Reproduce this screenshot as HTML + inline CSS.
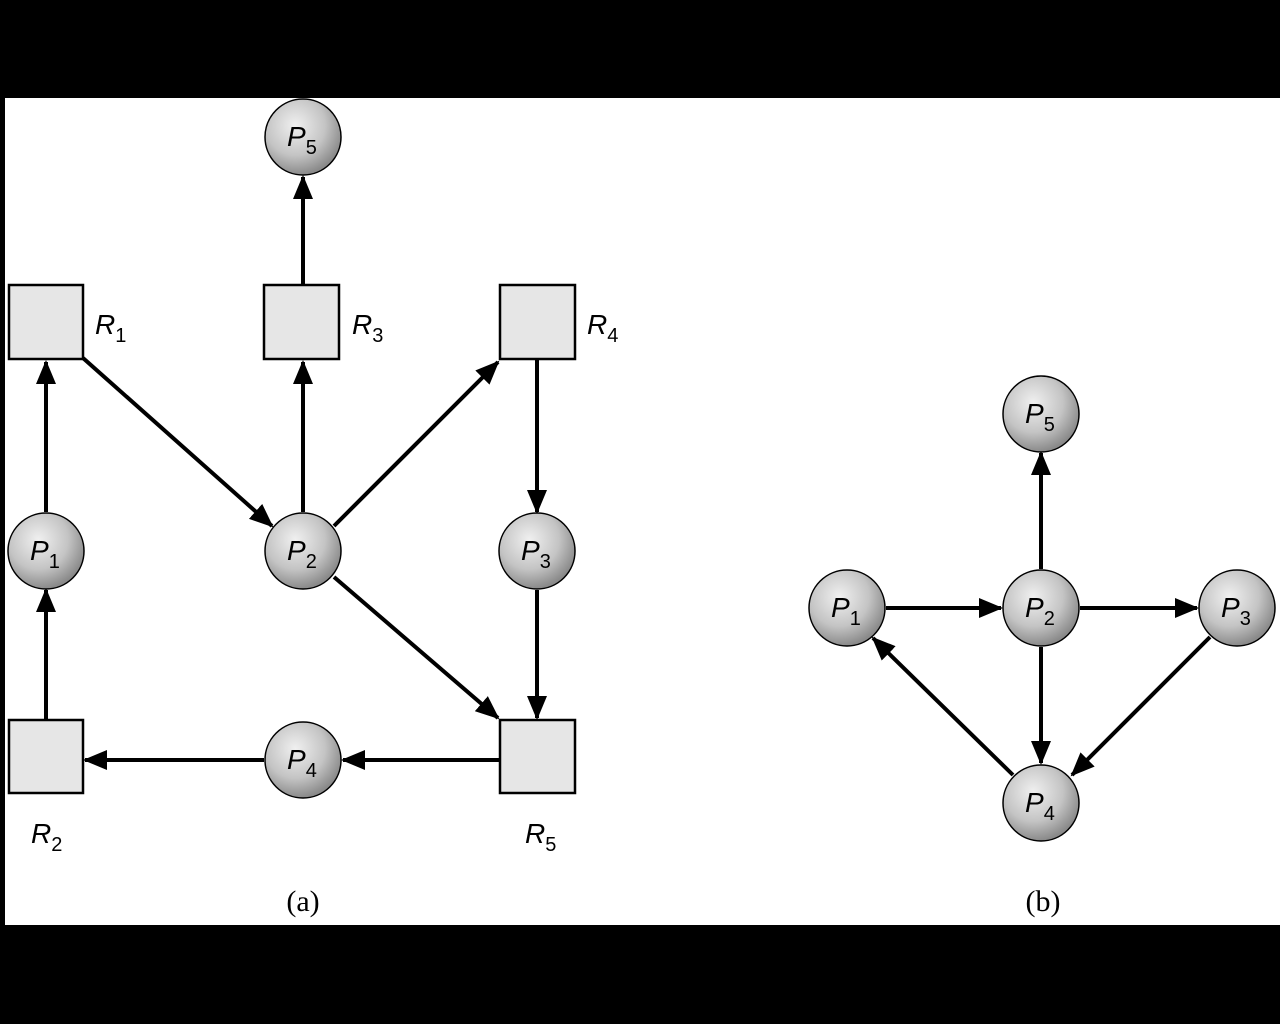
<!DOCTYPE html>
<html><head><style>body{margin:0;background:#000}svg{display:block}</style></head><body>
<svg width="1280" height="1024" xmlns="http://www.w3.org/2000/svg">
<defs>
<radialGradient id="g" cx="0.4" cy="0.35" r="0.65"><stop offset="0" stop-color="#f0f0f0"/><stop offset="0.6" stop-color="#c4c4c4"/><stop offset="1" stop-color="#8a8a8a"/></radialGradient>
<marker id="a" markerWidth="6" markerHeight="5" refX="5.5" refY="2.5" orient="auto" markerUnits="strokeWidth"><path d="M0,0 L6,2.5 L0,5z" fill="#000"/></marker>
</defs>
<rect x="5" y="98" width="1275" height="827" fill="#fff"/>
<g stroke="#000" stroke-width="4" fill="none" marker-end="url(#a)">
<line x1="303" y1="284" x2="303" y2="177"/>
<line x1="46" y1="512" x2="46" y2="362"/>
<line x1="83" y1="358" x2="272" y2="526"/>
<line x1="303" y1="512" x2="303" y2="362"/>
<line x1="334" y1="526" x2="498" y2="362"/>
<line x1="537" y1="359" x2="537" y2="512"/>
<line x1="334" y1="577" x2="498" y2="718"/>
<line x1="537" y1="590" x2="537" y2="718"/>
<line x1="500" y1="760" x2="343" y2="760"/>
<line x1="264" y1="760" x2="85" y2="760"/>
<line x1="46" y1="720" x2="46" y2="590"/>
<line x1="1041" y1="569" x2="1041" y2="453"/>
<line x1="886" y1="608" x2="1001" y2="608"/>
<line x1="1080" y1="608" x2="1197" y2="608"/>
<line x1="1041" y1="647" x2="1041" y2="763"/>
<line x1="1210" y1="637" x2="1072" y2="775"/>
<line x1="1013" y1="775" x2="873" y2="638"/>
</g>
<g fill="#e6e6e6" stroke="#000" stroke-width="2.5">
<rect x="9" y="285" width="74" height="74"/><rect x="264" y="285" width="75" height="74"/><rect x="500" y="285" width="75" height="74"/>
<rect x="9" y="720" width="74" height="73"/><rect x="500" y="720" width="75" height="73"/>
</g>
<g fill="url(#g)" stroke="#000" stroke-width="1.5">
<circle cx="303" cy="137" r="38"/><circle cx="46" cy="551" r="38"/><circle cx="303" cy="551" r="38"/><circle cx="537" cy="551" r="38"/><circle cx="303" cy="760" r="38"/>
<circle cx="1041" cy="414" r="38"/><circle cx="847" cy="608" r="38"/><circle cx="1041" cy="608" r="38"/><circle cx="1237" cy="608" r="38"/><circle cx="1041" cy="803" r="38"/>
</g>
<g font-family="Liberation Sans, sans-serif" font-size="28" font-style="italic" fill="#000">
<text x="287" y="146">P<tspan font-size="20" font-style="normal" dy="8">5</tspan></text>
<text x="30" y="560">P<tspan font-size="20" font-style="normal" dy="8">1</tspan></text>
<text x="287" y="560">P<tspan font-size="20" font-style="normal" dy="8">2</tspan></text>
<text x="521" y="560">P<tspan font-size="20" font-style="normal" dy="8">3</tspan></text>
<text x="287" y="769">P<tspan font-size="20" font-style="normal" dy="8">4</tspan></text>
<text x="1025" y="423">P<tspan font-size="20" font-style="normal" dy="8">5</tspan></text>
<text x="831" y="617">P<tspan font-size="20" font-style="normal" dy="8">1</tspan></text>
<text x="1025" y="617">P<tspan font-size="20" font-style="normal" dy="8">2</tspan></text>
<text x="1221" y="617">P<tspan font-size="20" font-style="normal" dy="8">3</tspan></text>
<text x="1025" y="812">P<tspan font-size="20" font-style="normal" dy="8">4</tspan></text>
<text x="95" y="334">R<tspan font-size="20" font-style="normal" dy="8">1</tspan></text>
<text x="352" y="334">R<tspan font-size="20" font-style="normal" dy="8">3</tspan></text>
<text x="587" y="334">R<tspan font-size="20" font-style="normal" dy="8">4</tspan></text>
<text x="31" y="843">R<tspan font-size="20" font-style="normal" dy="8">2</tspan></text>
<text x="525" y="843">R<tspan font-size="20" font-style="normal" dy="8">5</tspan></text>
</g>
<g font-family="Liberation Serif, serif" font-size="30" fill="#000" text-anchor="middle">
<text x="303" y="911">(a)</text><text x="1043" y="911">(b)</text>
</g>
</svg>
</body></html>
